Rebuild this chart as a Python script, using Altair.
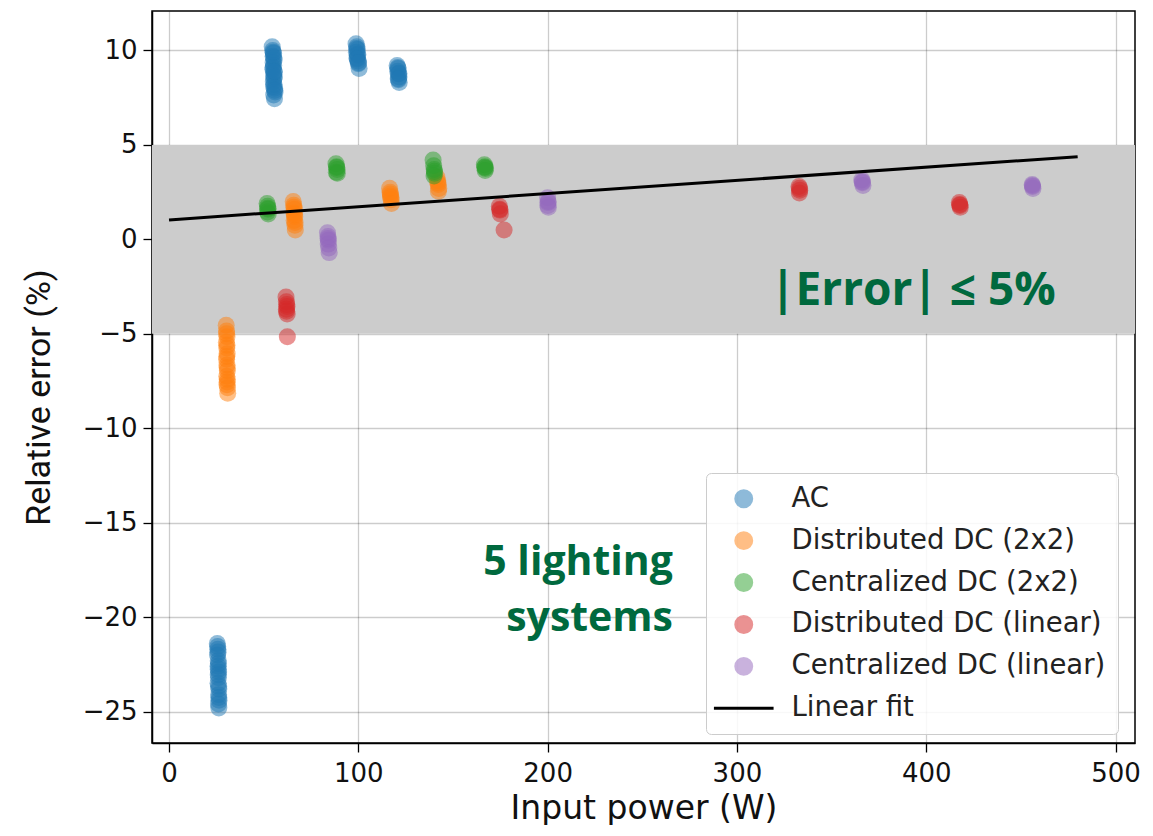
import altair as alt
import pandas as pd

SERIES = ["AC", "Distributed DC (2x2)", "Centralized DC (2x2)",
          "Distributed DC (linear)", "Centralized DC (linear)", "Linear fit"]
COLORS = ["#1f77b4", "#ff7f0e", "#2ca02c", "#d62728", "#9467bd", "#000000"]
SHAPES = ["circle", "circle", "circle", "circle", "circle", "M-3.7,0H3.7"]
OPACITIES = [0.5, 0.5, 0.5, 0.5, 0.5, 1.0]

X_DOMAIN = [-9, 510.3]
Y_DOMAIN = [-26.66, 12.09]
X_TICKS = [0, 100, 200, 300, 400, 500]
Y_TICKS = [-25, -20, -15, -10, -5, 0, 5, 10]
BAND = [-5, 5]

AC_X = [54.5, 54.8, 55.2, 55.0, 55.5, 55.0, 55.3, 54.9, 55.6, 55.2, 55.4, 55.1, 55.5, 55.8, 56.0, 55.3, 55.7,
        55.0, 55.4, 54.9, 55.6, 55.2, 55.8, 55.5,
        98.8, 99.2, 99.5, 99.0, 99.6, 99.3, 99.8, 100.0, 100.4, 99.1, 99.7, 99.4, 100.1,
        120.5, 121.0, 120.8, 121.3, 121.5, 121.2, 121.6, 120.9, 121.4, 121.1,
        25.5, 25.8, 25.6, 26.0, 25.9, 26.2, 26.1, 25.9, 26.3, 26.2, 26.4, 26.3,
        25.7, 25.9, 26.1, 26.0, 26.2, 26.3, 26.1, 26.0]
AC_Y = [10.2, 10.0, 9.85, 9.7, 9.5, 9.35, 9.2, 9.0, 8.85, 8.7, 8.5, 8.35, 8.2, 8.0, 7.8, 7.65, 7.45,
        9.9, 9.6, 9.1, 8.6, 8.1, 7.9, 8.9,
        10.35, 10.2, 10.05, 9.9, 9.75, 9.6, 9.45, 9.3, 9.05, 10.1, 9.8, 9.55, 9.35,
        9.2, 9.05, 8.9, 8.75, 8.6, 8.45, 8.3, 9.1, 8.8, 8.5,
        -21.4, -21.7, -22.0, -22.3, -22.6, -22.9, -23.2, -23.5, -23.8, -24.1, -24.4, -24.8,
        -21.55, -21.85, -22.45, -23.05, -23.65, -24.25, -24.6, -22.75]

DDC22_X = [30.2, 30.4, 30.6, 30.3, 30.5, 30.7, 30.4, 30.6, 30.8, 30.5, 30.7, 30.9, 31.0,
           30.4, 30.6, 30.5, 30.7, 30.8, 30.6,
           65.6, 65.9, 66.2, 66.0, 66.4, 66.1, 66.5, 66.7, 66.0, 66.3, 66.6,
           116.5, 116.8, 117.0, 117.3, 117.5, 116.9, 117.2,
           141.5, 141.9, 142.2, 142.5, 142.3, 142.0]
DDC22_Y = [-4.55, -4.85, -5.15, -5.45, -5.75, -6.05, -6.35, -6.65, -6.95, -7.25, -7.55, -7.85, -8.15,
           -5.0, -5.6, -6.2, -6.8, -7.4, -7.7,
           2.0, 1.8, 1.6, 1.4, 1.2, 1.0, 0.75, 0.5, 1.7, 1.3, 0.9,
           2.7, 2.5, 2.3, 2.1, 1.9, 2.4, 2.2,
           3.3, 3.1, 2.9, 2.7, 2.55, 3.0]

CDC22_X = [51.8, 52.1, 52.3, 52.0, 52.4, 52.2,
           88.2, 88.5, 88.8, 88.4, 88.9, 88.6,
           139.5, 139.8, 140.1, 140.3, 140.0, 140.2,
           166.6, 166.9, 167.2, 167.0, 166.8]
CDC22_Y = [1.9, 1.75, 1.6, 1.45, 1.35, 1.65,
           4.0, 3.85, 3.7, 3.55, 3.5, 3.8,
           4.2, 3.9, 3.7, 3.5, 3.35, 3.6,
           3.95, 3.85, 3.75, 3.65, 3.8]

DDCL_X = [61.8, 62.0, 62.3, 62.1, 62.4, 62.2, 62.0, 62.5,
          174.5, 174.8, 175.0, 174.7, 177.0,
          332.8, 333.2, 333.0, 333.1,
          417.5, 417.8, 418.0, 417.7]
DDCL_Y = [-3.05, -3.3, -3.55, -3.8, -3.95, -3.45, -3.7, -5.15,
          1.75, 1.55, 1.35, 1.6, 0.5,
          2.8, 2.6, 2.45, 2.7,
          1.95, 1.8, 1.7, 1.85]

CDCL_X = [83.7, 84.0, 84.2, 84.1, 84.4, 84.6, 84.0,
          200.0, 200.3, 200.1, 200.4, 200.2,
          366.0, 366.3, 366.6, 366.2,
          456.0, 456.2, 456.4, 456.1]
CDCL_Y = [0.35, 0.15, -0.05, -0.25, -0.45, -0.7, 0.05,
          2.2, 2.0, 1.8, 1.7, 1.95,
          3.15, 3.0, 2.85, 3.05,
          2.9, 2.8, 2.7, 2.85]

FIT_X = [0, 480]
FIT_Y = [1.03, 4.38]

NOTE_TEXT = ["|Error| ≤ 5%"]
NOTE_X = [393]
NOTE_Y = [-3.45]
SYS_TEXT = ["5 lighting", "systems"]
SYS_X = [266.2, 266.2]
SYS_Y = [-17.75, -20.75]

rows = []
for name, xs_, ys_ in [(SERIES[0], AC_X, AC_Y), (SERIES[1], DDC22_X, DDC22_Y),
                       (SERIES[2], CDC22_X, CDC22_Y), (SERIES[3], DDCL_X, DDCL_Y),
                       (SERIES[4], CDCL_X, CDCL_Y)]:
    for a, b in zip(xs_, ys_):
        rows.append({"power": a, "err": b, "series": name})
points = pd.DataFrame(rows)
fit = pd.DataFrame({"power": FIT_X, "err": FIT_Y, "series": [SERIES[5]] * 2})
band = pd.DataFrame({"x0": [X_DOMAIN[0]], "x1": [X_DOMAIN[1]], "y0": [BAND[0]], "y1": [BAND[1]]})
note = pd.DataFrame({"power": NOTE_X, "err": NOTE_Y, "t": NOTE_TEXT})
sysn = pd.DataFrame({"power": SYS_X, "err": SYS_Y, "t": SYS_TEXT})

xs = alt.Scale(domain=X_DOMAIN, nice=False, zero=False)
ys = alt.Scale(domain=Y_DOMAIN, nice=False, zero=False)
xax = alt.Axis(values=X_TICKS, title="Input power (W)", titleFont="DejaVu Sans",
               titleFontSize=33, titleFontWeight="normal", titlePadding=6, labelPadding=8)
yax = alt.Axis(values=Y_TICKS, title="Relative error (%)", titleFont="Roboto",
               titleFontSize=34, titleFontWeight="normal", titlePadding=26, labelPadding=6,
               titleY=386)

legend = alt.Legend(title=None, orient="none", legendX=554, legendY=462,
                    labelFont="DejaVu Sans", labelFontSize=27.5, labelColor="#222222",
                    symbolSize=260, symbolStrokeWidth=2.8, rowPadding=12.9,
                    symbolOffset=12, labelOffset=34, padding=12,
                    fillColor="rgba(255,255,255,0.85)",
                    strokeColor="#cccccc", cornerRadius=5, labelLimit=500)

color = alt.Color("series:N", scale=alt.Scale(domain=SERIES, range=COLORS), legend=legend)

band_layer = alt.Chart(band).mark_rect(color="#cccccc").encode(
    x=alt.X("x0:Q", scale=xs, axis=xax), x2="x1:Q",
    y=alt.Y("y0:Q", scale=ys, axis=yax), y2="y1:Q")

pt_layer = alt.Chart(points).mark_point(filled=True, size=290, strokeWidth=0).encode(
    x=alt.X("power:Q", scale=xs, axis=xax),
    y=alt.Y("err:Q", scale=ys, axis=yax),
    color=color,
    shape=alt.Shape("series:N", scale=alt.Scale(domain=SERIES, range=SHAPES), legend=legend),
    opacity=alt.Opacity("series:N", scale=alt.Scale(type="ordinal", domain=SERIES, range=OPACITIES), legend=legend),
)

fit_layer = alt.Chart(fit).mark_line(strokeWidth=3).encode(
    x=alt.X("power:Q", scale=xs, axis=xax),
    y=alt.Y("err:Q", scale=ys, axis=yax),
    color=color)

note_layer = alt.Chart(note).mark_text(font="Open Sans", fontSize=46, fontWeight="bold",
                                       color="#00693E", align="center", baseline="alphabetic").encode(
    x=alt.X("power:Q", scale=xs), y=alt.Y("err:Q", scale=ys), text="t:N")

sys_layer = alt.Chart(sysn).mark_text(font="Open Sans", fontSize=41, fontWeight="bold",
                                      color="#00693E", align="right", baseline="alphabetic").encode(
    x=alt.X("power:Q", scale=xs), y=alt.Y("err:Q", scale=ys), text="t:N")

chart = alt.layer(band_layer, pt_layer, fit_layer, note_layer, sys_layer).properties(
    width=983, height=732, autosize="none",
    padding={"left": 144, "top": 3, "right": 10, "bottom": 82}
).configure_view(stroke="black", strokeWidth=1.5).configure_axis(
    zindex=1, labelFont="DejaVu Sans", labelFontSize=26, labelColor="#111111",
    tickColor="black", tickSize=9, tickWidth=1.3, domainColor="black", domainWidth=1.5,
    gridColor="black", gridOpacity=0.2, gridWidth=1.3, titleColor="#111111"
)

chart.save("out.html", embed_options={"renderer": "svg", "actions": False})
